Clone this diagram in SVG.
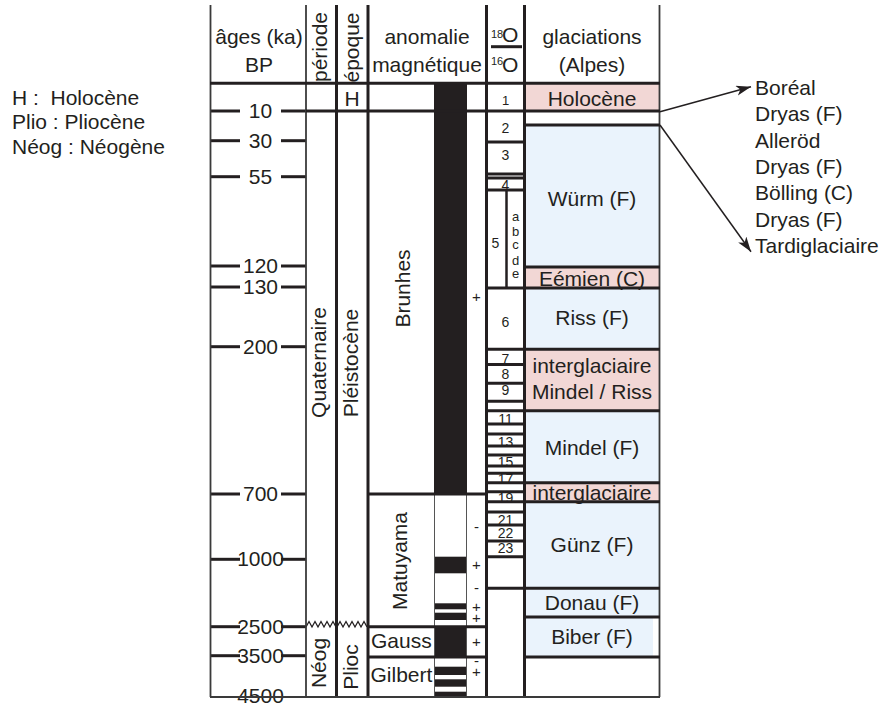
<svg xmlns="http://www.w3.org/2000/svg" width="891" height="704" viewBox="0 0 891 704">
<style>
text{font-family:"Liberation Sans",Arial,sans-serif;font-size:21px;fill:#231f20}
.m{text-anchor:middle}
.s{font-size:14px}
.sl{font-size:13px}
.ss{font-size:11px}
.sg{font-size:15px}
.k{stroke:#231f20;stroke-width:3;fill:none}
.n{stroke:#3a3a3a;stroke-width:1.8;fill:none}
.h{stroke:#231f20;stroke-width:2.5;fill:none}
.pk{fill:#f2d7d5}
.bl{fill:#eaf3fc}
.bar{fill:#231f20}
.z{stroke:#231f20;stroke-width:1.3;fill:none}
</style>
<defs>
<marker id="ah" markerUnits="userSpaceOnUse" markerWidth="16" markerHeight="12" refX="15" refY="5" orient="auto">
<path d="M0,0 L15,5 L0,10 L4,5 z" fill="#231f20"/>
</marker>
</defs>

<g id="legend">
<text x="12" y="105" xml:space="preserve">H :  Holocène</text>
<text x="12" y="129">Plio : Pliocène</text>
<text x="12" y="154">Néog : Néogène</text>
</g>

<g id="fills">
<rect class="pk" x="524" y="83" width="136" height="28"/>
<rect class="bl" x="524" y="125" width="136" height="142"/>
<rect class="pk" x="524" y="267" width="136" height="21"/>
<rect class="bl" x="524" y="288" width="136" height="61"/>
<rect class="pk" x="524" y="349" width="136" height="62"/>
<rect class="bl" x="524" y="411" width="136" height="72"/>
<rect class="pk" x="524" y="483" width="136" height="19"/>
<rect class="bl" x="524" y="502" width="136" height="86"/>
<rect class="bl" x="524" y="588" width="136" height="29"/>
<rect class="bl" x="524" y="617" width="129" height="40"/>
</g>

<g id="header">
<text class="m" x="259" y="44">âges (ka)</text>
<text class="m" x="259" y="72">BP</text>
<text class="m" transform="translate(326.5,47) rotate(-90)">période</text>
<text class="m" transform="translate(359,47.5) rotate(-90)">époque</text>
<text class="m" x="427" y="44">anomalie</text>
<text class="m" x="427" y="72">magnétique</text>
<text class="ss" x="491" y="38">18</text>
<text x="502" y="42">O</text>
<line class="k" x1="491" y1="46.7" x2="522" y2="46.7"/>
<text class="ss" x="491" y="65">16</text>
<text x="502" y="71.5">O</text>
<text class="m" x="592" y="44">glaciations</text>
<text class="m" x="592" y="72">(Alpes)</text>
</g>

<g id="col-ages">
<g class="k">
<line x1="210" y1="111" x2="240" y2="111"/><line x1="281" y1="111" x2="306" y2="111"/>
<line x1="210" y1="140.7" x2="240" y2="140.7"/><line x1="281" y1="140.7" x2="306" y2="140.7"/>
<line x1="210" y1="176.7" x2="240" y2="176.7"/><line x1="281" y1="176.7" x2="306" y2="176.7"/>
<line x1="210" y1="266" x2="240" y2="266"/><line x1="281" y1="266" x2="306" y2="266"/>
<line x1="210" y1="287" x2="240" y2="287"/><line x1="281" y1="287" x2="306" y2="287"/>
<line x1="210" y1="346.7" x2="240" y2="346.7"/><line x1="281" y1="346.7" x2="306" y2="346.7"/>
<line x1="210" y1="494" x2="240" y2="494"/><line x1="281" y1="494" x2="306" y2="494"/>
<line x1="210" y1="559.3" x2="240" y2="559.3"/><line x1="281" y1="559.3" x2="306" y2="559.3"/>
<line x1="210" y1="626.7" x2="240" y2="626.7"/><line x1="281" y1="626.7" x2="306" y2="626.7"/>
<line x1="210" y1="655.7" x2="240" y2="655.7"/><line x1="281" y1="655.7" x2="306" y2="655.7"/>
</g>
<text class="m" x="260.5" y="118">10</text>
<text class="m" x="260.5" y="147.7">30</text>
<text class="m" x="260.5" y="183.7">55</text>
<text class="m" x="260.5" y="273">120</text>
<text class="m" x="260.5" y="294">130</text>
<text class="m" x="260.5" y="353.7">200</text>
<text class="m" x="260.5" y="501">700</text>
<text class="m" x="260.5" y="566.3">1000</text>
<text class="m" x="260.5" y="633.7">2500</text>
<text class="m" x="260.5" y="662.7">3500</text>
<text class="m" x="260.5" y="702.5">4500</text>
</g>

<g id="col-periode">
<text class="m" transform="translate(326,362.5) rotate(-90)">Quaternaire</text>
<text class="m" transform="translate(326,663) rotate(-90)">Néog</text>
<polyline class="z" points="306,627 309,621.5 312,627 315,621.5 318,627 321,621.5 324,627 327,621.5 330,627 333,621.5 336,627"/>
</g>

<g id="col-epoque">
<text class="m" x="352" y="105.5">H</text>
<text class="m" transform="translate(358,363) rotate(-90)">Pléistocène</text>
<text class="m" transform="translate(358,667) rotate(-90)">Plioc</text>
<polyline class="z" points="337,627 340,621.5 343,627 346,621.5 349,627 352,621.5 355,627 358,621.5 361,627 364,621.5 367,627"/>
</g>

<g id="col-anomalie">
<rect class="bar" x="434" y="83" width="33" height="411"/>
<rect class="bar" x="434" y="556.7" width="33" height="16.6"/>
<rect class="bar" x="434" y="603.3" width="33" height="6"/>
<rect class="bar" x="434" y="612.7" width="33" height="7.3"/>
<rect class="bar" x="434" y="627" width="33" height="30"/>
<rect class="bar" x="434" y="666.7" width="33" height="8.3"/>
<rect class="bar" x="434" y="679.3" width="33" height="7.4"/>
<rect class="bar" x="434" y="691.7" width="33" height="5.3"/>
<line stroke="#555" stroke-width="1" x1="434.5" y1="494" x2="434.5" y2="697"/>
<line stroke="#555" stroke-width="1" x1="466.5" y1="494" x2="466.5" y2="697"/>
<text class="m" transform="translate(410,288.5) rotate(-90)">Brunhes</text>
<text class="m" transform="translate(407,561) rotate(-90)">Matuyama</text>
<text x="371" y="648.3">Gauss</text>
<text x="370.5" y="681.7">Gilbert</text>
<text class="m sg" x="476.5" y="302">+</text>
<text class="m sg" x="476.5" y="532">-</text>
<text class="m sg" x="476.5" y="570">+</text>
<text class="m sg" x="476.5" y="593">-</text>
<text class="m sg" x="476.5" y="611.5">+</text>
<text class="m sg" x="476.5" y="622.5">+</text>
<text class="m sg" x="476.5" y="646.5">+</text>
<text class="m sg" x="476.5" y="665.5">-</text>
<text class="m sg" x="476.5" y="676.5">+</text>
</g>

<g id="col-isotopes">
<text class="m" x="505.5" y="105" style="font-size:13px">1</text>
<text class="m s" x="505.5" y="133.3">2</text>
<text class="m s" x="505.5" y="160">3</text>
<text class="m s" x="505.5" y="189.5">4</text>
<text class="m s" x="495.5" y="248">5</text>
<text class="m sl" x="515.5" y="221">a</text>
<text class="m sl" x="515.5" y="236">b</text>
<text class="m sl" x="515.5" y="249">c</text>
<text class="m sl" x="515.5" y="264.5">d</text>
<text class="m sl" x="515.5" y="277.5">e</text>
<text class="m s" x="505.5" y="326.7">6</text>
<text class="m s" x="505.5" y="363.5">7</text>
<text class="m s" x="505.5" y="379.3">8</text>
<text class="m s" x="505.5" y="395">9</text>
<text class="m s" x="505.5" y="424">11</text>
<text class="m s" x="505.5" y="446.5">13</text>
<text class="m s" x="505.5" y="466.5">15</text>
<text class="m s" x="505.5" y="483.5">17</text>
<text class="m s" x="505.5" y="502.5">19</text>
<text class="m s" x="505.5" y="525">21</text>
<text class="m s" x="505.5" y="538.3">22</text>
<text class="m s" x="505.5" y="553.3">23</text>
<line class="h" x1="506.5" y1="190" x2="506.5" y2="288"/>
</g>

<g id="col-glaciations">
<text class="m" x="592" y="106">Holocène</text>
<text class="m" x="592" y="206">Würm (F)</text>
<text class="m" x="592" y="286">Eémien (C)</text>
<text class="m" x="592" y="325">Riss (F)</text>
<text class="m" x="592" y="372.7">interglaciaire</text>
<text class="m" x="592" y="399.3">Mindel / Riss</text>
<text class="m" x="592" y="455">Mindel (F)</text>
<text class="m" x="592" y="500">interglaciaire</text>
<text class="m" x="592" y="551.7">Günz (F)</text>
<text class="m" x="592" y="610">Donau (F)</text>
<text class="m" x="592" y="644">Biber (F)</text>
</g>

<g id="grid">
<line class="n" x1="210.5" y1="5" x2="210.5" y2="697"/>
<line class="n" x1="306" y1="5" x2="306" y2="697"/>
<line class="k" x1="336.5" y1="5" x2="336.5" y2="697"/>
<line class="k" x1="368" y1="5" x2="368" y2="697"/>
<line class="k" x1="486.5" y1="5" x2="486.5" y2="697"/>
<line class="k" x1="524.5" y1="5" x2="524.5" y2="697"/>
<line class="n" x1="659.5" y1="5" x2="659.5" y2="697"/>
<line class="k" x1="210" y1="83.3" x2="660" y2="83.3"/>
<line class="k" x1="306" y1="111" x2="660" y2="111"/>
<line class="k" x1="524" y1="125" x2="660" y2="125"/>
<line class="k" x1="486" y1="142" x2="524" y2="142"/>
<line class="k" x1="486" y1="174" x2="524" y2="174"/>
<line class="k" x1="486" y1="178" x2="524" y2="178"/>
<line class="k" x1="486" y1="190" x2="524" y2="190"/>
<line class="k" x1="524" y1="267" x2="660" y2="267"/>
<line class="k" x1="486" y1="288" x2="660" y2="288"/>
<line class="k" x1="486" y1="349.3" x2="660" y2="349.3"/>
<line class="k" x1="486" y1="364.5" x2="524" y2="364.5"/>
<line class="k" x1="486" y1="383.3" x2="524" y2="383.3"/>
<line class="k" x1="486" y1="401.3" x2="524" y2="401.3"/>
<line class="k" x1="486" y1="410.7" x2="660" y2="410.7"/>
<line class="k" x1="486" y1="424" x2="524" y2="424"/>
<line class="k" x1="486" y1="434" x2="524" y2="434"/>
<line class="k" x1="486" y1="446" x2="524" y2="446"/>
<line class="k" x1="486" y1="455" x2="524" y2="455"/>
<line class="k" x1="486" y1="466" x2="524" y2="466"/>
<line class="k" x1="486" y1="473.3" x2="524" y2="473.3"/>
<line class="k" x1="486" y1="482.7" x2="660" y2="482.7"/>
<line class="k" x1="486" y1="491.7" x2="524" y2="491.7"/>
<line class="k" x1="368" y1="494" x2="486" y2="494"/>
<line class="k" x1="486" y1="501.7" x2="660" y2="501.7"/>
<line class="k" x1="486" y1="512" x2="524" y2="512"/>
<line class="k" x1="486" y1="525" x2="524" y2="525"/>
<line class="k" x1="486" y1="541" x2="524" y2="541"/>
<line class="k" x1="486" y1="556.7" x2="524" y2="556.7"/>
<line class="k" x1="486" y1="588.3" x2="660" y2="588.3"/>
<line class="k" x1="524" y1="617" x2="660" y2="617"/>
<line class="k" x1="368" y1="626.7" x2="486" y2="626.7"/>
<line class="k" x1="368" y1="657" x2="486" y2="657"/>
<line class="k" x1="524" y1="657" x2="660" y2="657"/>
<line class="n" x1="210" y1="697" x2="660" y2="697"/>
</g>

<g id="connectors">
<line stroke="#231f20" stroke-width="1.5" x1="660" y1="111.7" x2="751" y2="86.7" marker-end="url(#ah)"/>
<line stroke="#231f20" stroke-width="1.5" x1="660" y1="125" x2="751" y2="251.7" marker-end="url(#ah)"/>
</g>

<g id="holocene-detail">
<text x="755" y="95">Boréal</text>
<text x="755" y="121.3">Dryas (F)</text>
<text x="755" y="147.6">Alleröd</text>
<text x="755" y="173.9">Dryas (F)</text>
<text x="755" y="200.2">Bölling (C)</text>
<text x="755" y="226.5">Dryas (F)</text>
<text x="755" y="252.8">Tardiglaciaire</text>
</g>
</svg>
